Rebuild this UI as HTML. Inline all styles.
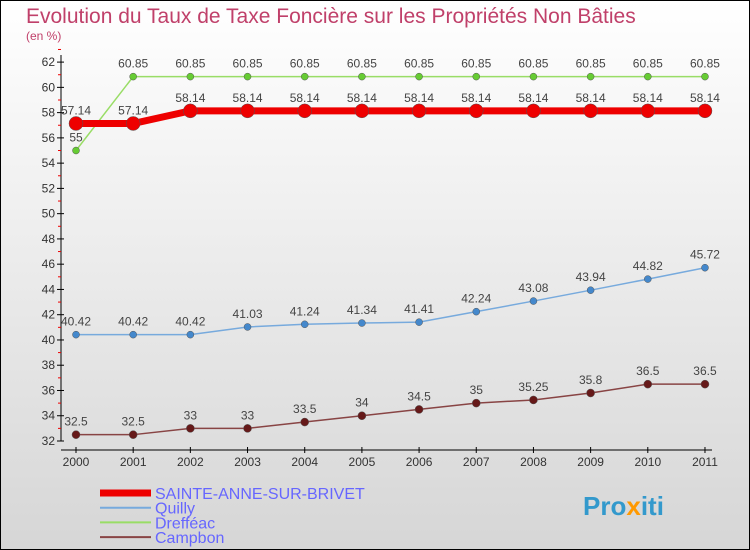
<!DOCTYPE html>
<html><head><meta charset="utf-8"><style>
body{margin:0;width:750px;height:550px;overflow:hidden}
svg{display:block;font-family:"Liberation Sans",sans-serif}
</style></head><body>
<svg width="750" height="550">
<defs><linearGradient id="bg" x1="0" y1="0" x2="0" y2="1"><stop offset="0" stop-color="#ffffff"/><stop offset="1" stop-color="#d6d6d6"/></linearGradient></defs>
<rect x="0.5" y="0.5" width="749" height="549" fill="url(#bg)" stroke="#000"/>
<text x="26" y="23" font-size="21" fill="#c0406a">Evolution du Taux de Taxe Foncière sur les Propriétés Non Bâties</text>
<text x="26" y="40" font-size="12" fill="#c0406a">(en %)</text>
<g id="axes"></g><g id="series"></g><g id="legend"></g>
<text x="583" y="515" font-size="26" font-weight="bold" fill="#3399cc">Pro<tspan fill="#ff9900">x</tspan>iti</text>
</svg>
<script>
const years=[2000,2001,2002,2003,2004,2005,2006,2007,2008,2009,2010,2011];
const sainte=[57.14,57.14,58.14,58.14,58.14,58.14,58.14,58.14,58.14,58.14,58.14,58.14];
const quilly=[40.42,40.42,40.42,41.03,41.24,41.34,41.41,42.24,43.08,43.94,44.82,45.72];
const dreffeac=[55,60.85,60.85,60.85,60.85,60.85,60.85,60.85,60.85,60.85,60.85,60.85];
const campbon=[32.5,32.5,33,33,33.5,34,34.5,35,35.25,35.8,36.5,36.5];
const yTicks=[32,34,36,38,40,42,44,46,48,50,52,54,56,58,60,62];
const names=["SAINTE-ANNE-SUR-BRIVET","Quilly","Drefféac","Campbon"];
const NS="http://www.w3.org/2000/svg";
const X=i=>76+i*57.18, Y=v=>441-(v-32)*12.63;
function mk(p,t,a){const e=document.createElementNS(NS,t);for(const k in a)e.setAttribute(k,a[k]);p.appendChild(e);return e;}
const ax=document.getElementById('axes');
let l=mk(ax,'line',{x1:61,y1:55,x2:61,y2:441,stroke:'#000'});


l=mk(ax,'line',{x1:61,y1:450,x2:712,y2:450,stroke:'#000'});


yTicks.forEach(v=>{
 mk(ax,'line',{x1:57,y1:Y(v),x2:64,y2:Y(v),stroke:'#000'});
 mk(ax,'line',{x1:58,y1:Y(v+1),x2:61,y2:Y(v+1),stroke:'#e00'});
 const t=mk(ax,'text',{x:55,y:Y(v)+4,'font-size':12,fill:'#333','text-anchor':'end'});t.textContent=v;
 
 
});
years.forEach((yr,i)=>{
 mk(ax,'line',{x1:X(i),y1:447,x2:X(i),y2:453,stroke:'#000'});
 const t=mk(ax,'text',{x:X(i),y:466,'font-size':12,fill:'#333','text-anchor':'middle'});t.textContent=yr;
 
 
});
const S=document.getElementById('series');
const defs=[[dreffeac,'#99dd66','#66cc33',1.5,3.5,'dreffeac'],[quilly,'#77aadd','#4488cc',1.5,3.5,'quilly'],[campbon,'#884444','#661919',1.5,4,'campbon'],[sainte,'#ee0000','#ee0000',7,7,'sainte-anne']];
defs.forEach(([d,c,mc,w,r,n])=>{
 const g=mk(S,'g',{});
 
 
 const p=mk(g,'polyline',{points:d.map((v,i)=>X(i)+','+Y(v)).join(' '),fill:'none',stroke:c,'stroke-width':w});
 
 
 d.forEach((v,i)=>{
  const c2=mk(g,'circle',{cx:X(i),cy:Y(v),r:r,fill:mc,stroke:'#555','stroke-width':0.5});
  
  
  const t=mk(g,'text',{x:X(i),y:Y(v)-9,'font-size':12,fill:'#444','text-anchor':'middle'});t.textContent=v;
  
  
 });
});
const L=document.getElementById('legend');
[['#ee0000',7],['#77aadd',2],['#99dd66',2],['#884444',2]].forEach(([c,w],k)=>{
 const y=493+k*14.7;
 const g=mk(L,'g',{});
 
 
 mk(g,'line',{x1:100,y1:y,x2:151,y2:y,stroke:c,'stroke-width':w});
 const t=mk(g,'text',{x:155,y:y+6,'font-size':16,fill:'#6666ff'});t.textContent=names[k];
});
</script>
</body></html>
